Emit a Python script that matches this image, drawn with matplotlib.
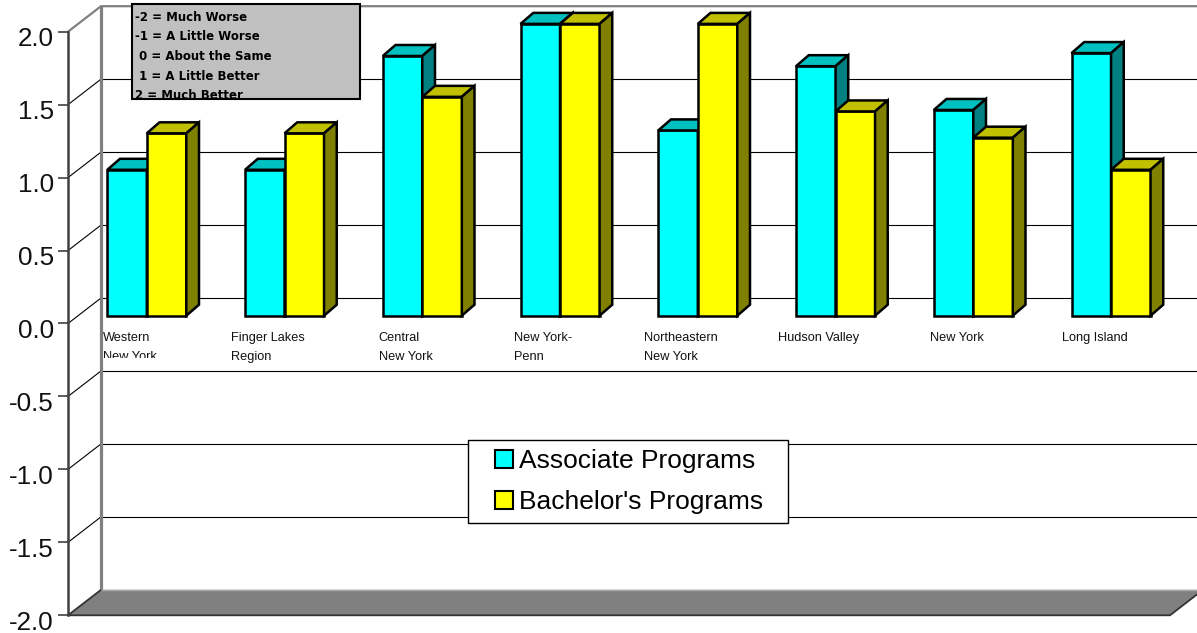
import numpy as np
import matplotlib
matplotlib.use("Agg")
import matplotlib.pyplot as plt
from matplotlib.patches import Polygon, Rectangle, Patch
from matplotlib.legend_handler import HandlerPatch
from matplotlib.ticker import FormatStrFormatter
from matplotlib.transforms import ScaledTranslation

# ---- data -------------------------------------------------------------
regions = ["Western\nNew York", "Finger Lakes\nRegion", "Central\nNew York",
           "New York-\nPenn", "Northeastern\nNew York", "Hudson Valley",
           "New York", "Long Island"]
associate = [1.00, 1.00, 1.78, 2.00, 1.27, 1.71, 1.41, 1.80]
bachelors = [1.25, 1.25, 1.50, 2.00, 2.00, 1.40, 1.22, 1.00]
series_names = ["Associate Programs", "Bachelor's Programs"]
y_ticks = [-2.0, -1.5, -1.0, -0.5, 0.0, 0.5, 1.0, 1.5, 2.0]
scale_notes = ["-2 = Much Worse", "-1 = A Little Worse", " 0 = About the Same",
               " 1 = A Little Better", "2 = Much Better"]

# ---- style ------------------------------------------------------------
FONT = "Liberation Sans"
SERIES_COLORS = [("#00FFFF", "#00C0C0", "#008080"),   # front, top, side
                 ("#FFFF00", "#C0C000", "#808000")]
WALL = "#808080"

W, H = 1197, 633
fig = plt.figure(figsize=(W / 100, H / 100), dpi=100)
fig.patch.set_facecolor("white")

# front plane of the pseudo-3D box
ax = fig.add_axes([68 / W, (H - 615.3) / H, (1170 - 68) / W, (615.3 - 31.7) / H])
ax.set_xlim(-0.572, 7.428)
ax.set_ylim(y_ticks[0], y_ticks[-1])
ax.patch.set_visible(False)
XL, XR = ax.get_xlim()
YB, YT = ax.get_ylim()

# depth offsets (data units)
DX, DY = 0.2396, 0.1748        # back wall
BASE = 0.0535                  # bar front plane lift
BAR_W = 0.2868
BDX, BDY = 0.0922, 0.0754      # bar depth

# axis styling
for s in ("top", "right", "bottom"):
    ax.spines[s].set_visible(False)
ax.spines["left"].set_color("#404040")
ax.spines["left"].set_linewidth(1.8)
ax.set_xticks([])
ax.set_yticks(y_ticks)
ax.yaxis.set_major_formatter(FormatStrFormatter("%.1f"))
ax.tick_params(axis="y", length=7.2, width=1.2, pad=2.9, color="#404040",
               labelsize=18.7, labelcolor="#111111")
nudge = ScaledTranslation(0, -3.5 / 72, fig.dpi_scale_trans)
for lab in ax.get_yticklabels():
    lab.set_family(FONT)
    lab.set_transform(lab.get_transform() + nudge)

line_kw = dict(clip_on=False, solid_capstyle="butt")

# back-wall gridlines and side-wall connectors
for v in y_ticks[1:-1]:
    ax.plot([XL + DX, XR + DX], [v + DY, v + DY], color="black", lw=0.8,
            zorder=1, **line_kw)
    ax.plot([XL, XL + DX], [v, v + DY], color="black", lw=0.8, zorder=1, **line_kw)

# wall outline
ax.plot([XL, XL + DX, XR + DX], [YT, YT + DY, YT + DY], color=WALL, lw=1.6,
        zorder=1.5, **line_kw)
ax.plot([XL + DX, XL + DX], [YB + DY, YT + DY], color=WALL, lw=2.3,
        zorder=1.5, **line_kw)

# floor
floor = Polygon([(XL, YB), (XR, YB), (XR + DX, YB + DY), (XL + DX, YB + DY)],
                closed=True, facecolor=WALL, edgecolor="none", clip_on=False,
                zorder=2)
ax.add_patch(floor)
ax.plot([XL + DX, XR + DX], [YB + DY, YB + DY], color="#A8A8A8", lw=1.0,
        zorder=2.1, **line_kw)
ax.plot([XL + DX, XL, XR, XR + DX], [YB + DY, YB, YB, YB + DY],
        color="#333333", lw=1.3, zorder=2.1, **line_kw)


def bar3d(x0, value, colors, z):
    front, top, side = colors
    x1 = x0 + BAR_W
    b, t = BASE, BASE + value
    faces = [
        ([(x0, b), (x1, b), (x1, t), (x0, t)], front),
        ([(x0, t), (x1, t), (x1 + BDX, t + BDY), (x0 + BDX, t + BDY)], top),
        ([(x1, b), (x1 + BDX, b + BDY), (x1 + BDX, t + BDY), (x1, t)], side),
    ]
    for pts, c in faces:
        ax.add_patch(Polygon(pts, closed=True, facecolor=c, edgecolor="black",
                             lw=1.8, joinstyle="miter", clip_on=False, zorder=z))


for i, (a, bv) in enumerate(zip(associate, bachelors)):
    bar3d(i - BAR_W, a, SERIES_COLORS[0], 3)
    bar3d(i, bv, SERIES_COLORS[1], 3.1)

# category labels (the first one is cut off by its label slot)
label_y = -0.055
for i, name in enumerate(regions):
    t = ax.text(i - 0.12, label_y, name, ha="center", va="top",
                multialignment="left", fontsize=9.2, family=FONT,
                color="#111111", linespacing=1.8, zorder=4)
    if i == 0:
        cut = Rectangle((i - 1, -0.237), 2, 1, transform=ax.transData)
        t.set_clip_path(cut)
        t.set_clip_on(True)
    else:
        t.set_clip_on(False)


# legend
def square_handle(legend, orig_handle, xdescent, ydescent, width, height, fontsize):
    return Rectangle((width - height - xdescent, -ydescent), height, height)


handles = [Patch(facecolor=c[0], edgecolor="black", lw=1.5) for c in SERIES_COLORS]
leg = ax.legend(handles, series_names, loc="upper left",
                bbox_to_anchor=(468.3 / W, 1 - 525 / H, 320 / W, 85 / H),
                bbox_transform=fig.transFigure, mode="expand", borderaxespad=0,
                prop=dict(family=FONT, size=19), frameon=True, fancybox=False,
                framealpha=1, edgecolor="black", borderpad=0.35,
                handlelength=1.33, handleheight=0.644, handletextpad=0.25,
                labelspacing=0.64,
                handler_map={Patch: HandlerPatch(patch_func=square_handle)})
leg.get_frame().set_linewidth(1.0)
leg.set_zorder(10)

# rating-scale note box
bx0, by0, bw, bh = 131.7 / W, 1 - 99.3 / H, 228.3 / W, 95.3 / H
note_bg = Rectangle((bx0, by0), bw, bh, transform=fig.transFigure,
                    facecolor="#C0C0C0", edgecolor="none", zorder=11)
note_edge = Rectangle((bx0, by0), bw, bh, transform=fig.transFigure,
                      facecolor="none", edgecolor="black", lw=1.5, zorder=13)
fig.add_artist(note_bg)
fig.add_artist(note_edge)
clip_rect = Rectangle((bx0, by0), bw, bh, transform=fig.transFigure)
for k, note in enumerate(scale_notes):
    t = fig.text(135 / W, 1 - (20.7 + 19.6 * k) / H, note, ha="left",
                 va="baseline", fontsize=8.5, fontweight="bold",
                 family="DejaVu Sans", color="black", zorder=12)
    t.set_clip_path(clip_rect)
    t.set_clip_on(True)

fig.savefig("out.png", dpi=100, facecolor="white")
